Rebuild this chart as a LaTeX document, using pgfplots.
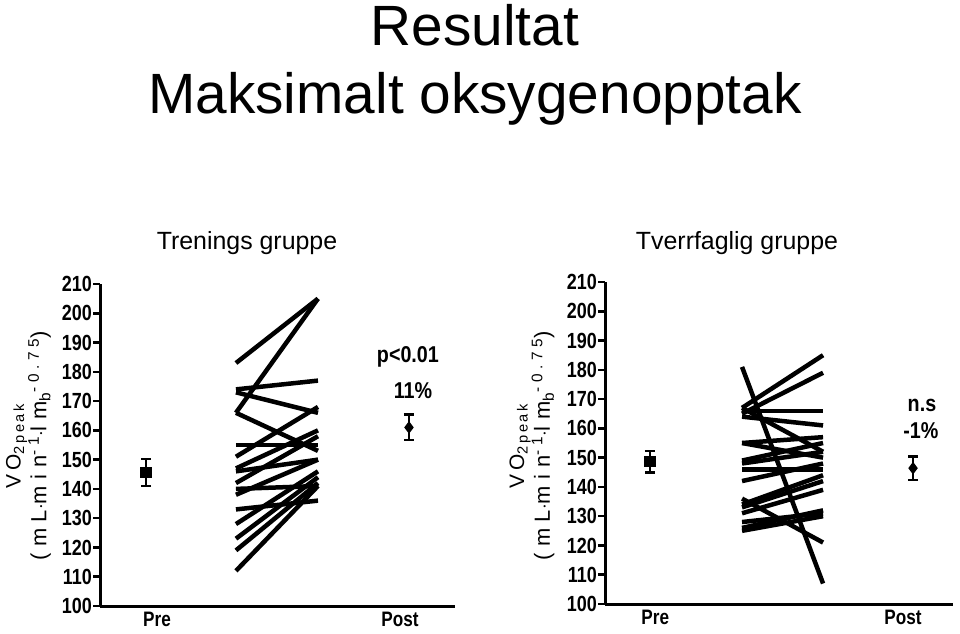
\documentclass[border=0pt]{standalone}
\usepackage{pgfplots}
\pgfplotsset{compat=1.18}
\usepackage{fontspec}
\setmainfont{Liberation Sans}
\newfontfamily\cond[FakeStretch=0.82]{Liberation Sans}
\newfontfamily\conda[FakeStretch=0.86]{Liberation Sans}
\newfontfamily\spaced[LetterSpace=18]{Liberation Sans}
\newfontfamily\spacedb[LetterSpace=30]{Liberation Sans}

\pgfplotsset{
  panel/.style={
    scale only axis, height=322bp, ymin=100, ymax=210,
    axis x line=bottom, axis y line=left,
    axis line style={line width=3bp, -},
    ytick={100,110,...,210},
    tick align=outside, major tick length=7bp,
    ytick style={line width=2.5bp, black},
    xtick style={draw=none},
    yticklabel style={font=\cond\bfseries\fontsize{22}{22}\selectfont, inner xsep=1bp},
    xticklabel style={font=\cond\bfseries\fontsize{21}{21}\selectfont,
      anchor=north, inner sep=0pt, text depth=0pt, yshift=1bp},
    /pgf/number format/assume math mode=true,
    clip=false,
  },
  subj/.style={black, line width=4.5bp, no markers},
  meanbar/.style={black, line width=2.2bp, mark size=4.5bp,
    error bars/.cd, y dir=both, y explicit,
    error bar style={line width=2.2bp},
    error mark=-,
    error mark options={rotate=90, line width=2.2bp, mark size=5bp}},
}
\newcommand{\ylab}{{\spaced\fontsize{21}{23}\selectfont VO\textsubscript{2peak}}\\
  {\spacedb\fontsize{22}{23}\selectfont (mL$\cdot$min\textsuperscript{-1}$\cdot$lm\textsubscript{b}\textsuperscript{-0.75})}}

\begin{document}
\begin{tikzpicture}
\useasboundingbox (0,0) rectangle (960bp,-634bp);

\node[anchor=base, font=\fontsize{57}{60}\selectfont] at (475bp,-45bp) {Resultat};
\node[anchor=base, font=\fontsize{57}{60}\selectfont] at (475bp,-113bp) {Maksimalt oksygenopptak};

\node[anchor=base, font=\fontsize{25}{28}\selectfont] at (247bp,-249bp) {Trenings gruppe};
\node[anchor=base, font=\fontsize{25}{28}\selectfont] at (737bp,-249bp) {Tverrfaglig gruppe};

\node[rotate=90, align=center] at (28.5bp,-446bp) {\ylab};
\node[rotate=90, align=center] at (532bp,-446bp) {\ylab};

% ---------------- Left panel: Trenings gruppe ----------------
\begin{axis}[panel, at={(100bp,-606bp)}, anchor=south west,
  width=355bp, xmin=-0.175, xmax=1.175,
  xtick={0.042,0.966}, xticklabels={Pre,Post}]
\addplot[subj] coordinates {(0.342,183) (0.654,205)};
\addplot[subj] coordinates {(0.342,166) (0.654,205)};
\addplot[subj] coordinates {(0.342,174) (0.654,177)};
\addplot[subj] coordinates {(0.342,173) (0.654,166)};
\addplot[subj] coordinates {(0.342,166) (0.654,153)};
\addplot[subj] coordinates {(0.342,155) (0.654,155)};
\addplot[subj] coordinates {(0.342,151) (0.654,168)};
\addplot[subj] coordinates {(0.342,147) (0.654,160)};
\addplot[subj] coordinates {(0.342,146) (0.654,150)};
\addplot[subj] coordinates {(0.342,142) (0.654,158)};
\addplot[subj] coordinates {(0.342,140) (0.654,141)};
\addplot[subj] coordinates {(0.342,138) (0.654,150)};
\addplot[subj] coordinates {(0.342,133) (0.654,136)};
\addplot[subj] coordinates {(0.342,128) (0.654,146)};
\addplot[subj] coordinates {(0.342,123) (0.654,144)};
\addplot[subj] coordinates {(0.342,119) (0.654,142)};
\addplot[subj] coordinates {(0.342,112) (0.654,141)};
\addplot[mark=square*, meanbar] coordinates {(0,145.6) +- (0,4.6)};
\addplot[mark=diamond*, meanbar] coordinates {(1,161.0) +- (0,4.4)};
\node[font=\conda\bfseries\fontsize{23}{23}\selectfont] at (axis cs:0.996,185.1) {p<0.01};
\node[font=\conda\bfseries\fontsize{23}{23}\selectfont] at (axis cs:1.015,173.6) {11\%};
\end{axis}

% ---------------- Right panel: Tverrfaglig gruppe ----------------
\begin{axis}[panel, at={(605bp,-604bp)}, anchor=south west,
  width=348bp, xmin=-0.171, xmax=1.152,
  xtick={0.02,0.962}, xticklabels={Pre,Post}]
\addplot[subj] coordinates {(0.35,181) (0.658,107)};
\addplot[subj] coordinates {(0.35,167) (0.658,185)};
\addplot[subj] coordinates {(0.35,165) (0.658,179)};
\addplot[subj] coordinates {(0.35,166) (0.658,166)};
\addplot[subj] coordinates {(0.35,164) (0.658,161)};
\addplot[subj] coordinates {(0.35,167) (0.658,152)};
\addplot[subj] coordinates {(0.35,155) (0.658,157)};
\addplot[subj] coordinates {(0.35,155) (0.658,150)};
\addplot[subj] coordinates {(0.35,149) (0.658,155)};
\addplot[subj] coordinates {(0.35,148) (0.658,152)};
\addplot[subj] coordinates {(0.35,146) (0.658,146)};
\addplot[subj] coordinates {(0.35,142) (0.658,148)};
\addplot[subj] coordinates {(0.35,136) (0.658,121)};
\addplot[subj] coordinates {(0.35,134) (0.658,144)};
\addplot[subj] coordinates {(0.35,133) (0.658,142)};
\addplot[subj] coordinates {(0.35,131) (0.658,139)};
\addplot[subj] coordinates {(0.35,128) (0.658,131)};
\addplot[subj] coordinates {(0.35,125) (0.658,130)};
\addplot[subj] coordinates {(0.35,126) (0.658,132)};
\addplot[mark=square*, meanbar] coordinates {(0,148.6) +- (0,3.7)};
\addplot[mark=diamond*, meanbar] coordinates {(1,146.4) +- (0,4.0)};
\node[font=\conda\bfseries\fontsize{23}{23}\selectfont] at (axis cs:1.034,168.0) {n.s};
\node[font=\conda\bfseries\fontsize{23}{23}\selectfont] at (axis cs:1.030,159.4) {-1\%};
\end{axis}
\end{tikzpicture}
\end{document}
